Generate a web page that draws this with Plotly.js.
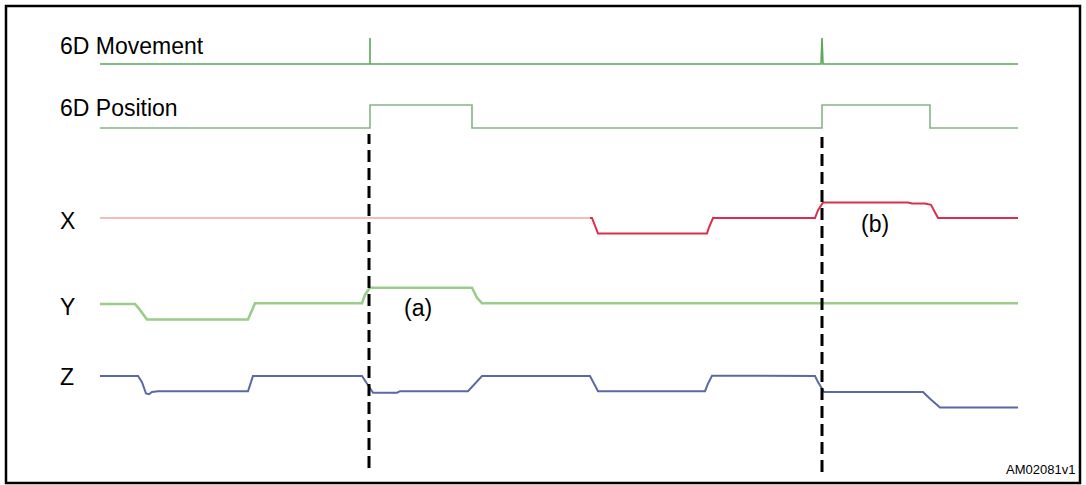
<!DOCTYPE html>
<html>
<head>
<meta charset="utf-8">
<script src="https://cdn.plot.ly/plotly-3.0.1.min.js"></script>
<style>html,body{margin:0;padding:0;background:#fff;}#chart{width:1086px;height:485px;}</style>
</head>
<body>
<div id="chart"></div>
<script>
// ---- data (time axis in arbitrary sample units, levels in logical units) ----
const channelNames = ["6D Movement", "6D Position", "X", "Y", "Z"];

const tMove = [100, 370, 370, 370, 821, 822, 822, 823, 1018];
const vMove = [0, 0, 1, 0, 0, 1, 1, 0, 0];

const tPos = [100, 370, 370, 472, 472, 822, 822, 930, 930, 1018];
const vPos = [0, 0, 1, 1, 0, 0, 1, 1, 0, 0];

const tXpale = [100, 590];
const vXpale = [0, 0];
const tX = [590, 592, 598, 707, 709, 713, 815, 818, 823, 908, 912, 925, 931, 938, 1018];
const vX = [0, 0, -1, -1, -0.6, 0, 0, 0.5, 1, 1, 0.93, 0.93, 0.85, 0, 0];

const tY = [100, 135, 139, 147, 248, 251, 255, 362, 365, 370, 472, 477, 482, 1018];
const vY = [0, 0, -0.3, -1, -1, -0.5, 0.05, 0.05, 0.6, 1.05, 1.05, 0.4, 0.05, 0.05];

const tZ = [100, 138, 142, 146, 149, 152, 158, 248, 250, 253, 362, 366, 373, 397, 400, 468, 475, 482, 590, 593, 598, 705, 708, 712, 815, 818, 824, 923, 930, 940, 1018];
const vZ = [0, 0, -0.4, -1.15, -1.2, -1.05, -1.0, -1.0, -0.6, 0, 0, -0.4, -1.1, -1.1, -1.0, -1.0, -0.5, 0, 0, -0.4, -1.0, -1.0, -0.5, 0.02, 0, -0.4, -1.05, -1.05, -1.5, -2.07, -2.07];

const eventTimes = [369, 822];
const eventLabels = ["(a)", "(b)"];
const figId = "AM02081v1";

// ---- layout helpers (positions only) ----
const W = 1086, H = 485;
const px = x => x / W;
const py = y => 1 - y / H;
function axisRange(basePx, unitPx) {
  const span = H / unitPx;
  const r0 = -span * (1 - basePx / H);
  return [r0, r0 + span];
}
const chan = [
  {base: 64, unit: 26},   // movement
  {base: 128, unit: 23},  // position
  {base: 218, unit: 15.5},  // X
  {base: 304, unit: 15.5},  // Y
  {base: 376, unit: 15.2}   // Z
];

const traces = [
  {x: tMove, y: vMove, yaxis: 'y', line: {color: '#5aa85a', width: 1.6}},
  {x: tPos, y: vPos, yaxis: 'y2', line: {color: '#86b486', width: 1.6}},
  {x: tXpale, y: vXpale, yaxis: 'y3', line: {color: '#f2a6a6', width: 1.6}},
  {x: tX, y: vX, yaxis: 'y3', line: {color: '#d8304c', width: 2}},
  {x: tY, y: vY, yaxis: 'y4', line: {color: '#9bcc8a', width: 2.6}},
  {x: tZ, y: vZ, yaxis: 'y5', line: {color: '#5a68a6', width: 2}}
].map(t => Object.assign({type: 'scatter', mode: 'lines', hoverinfo: 'skip', showlegend: false}, t));

const hidden = {visible: false, showgrid: false, zeroline: false, fixedrange: true};
const layout = {
  width: W, height: H,
  margin: {l: 0, r: 0, t: 0, b: 0},
  paper_bgcolor: '#fff', plot_bgcolor: '#fff',
  showlegend: false,
  xaxis: Object.assign({range: [0, W], domain: [0, 1]}, hidden),
  yaxis: Object.assign({range: axisRange(chan[0].base, chan[0].unit), domain: [0, 1]}, hidden),
  yaxis2: Object.assign({range: axisRange(chan[1].base, chan[1].unit), overlaying: 'y'}, hidden),
  yaxis3: Object.assign({range: axisRange(chan[2].base, chan[2].unit), overlaying: 'y'}, hidden),
  yaxis4: Object.assign({range: axisRange(chan[3].base, chan[3].unit), overlaying: 'y'}, hidden),
  yaxis5: Object.assign({range: axisRange(chan[4].base, chan[4].unit), overlaying: 'y'}, hidden),
  shapes: [
    {type: 'rect', xref: 'paper', yref: 'paper', x0: px(6), x1: px(1080), y0: py(483), y1: py(6),
     line: {color: '#000', width: 2.5}, fillcolor: 'rgba(0,0,0,0)'}
  ].concat(eventTimes.map((t, i) => ({
    type: 'line', xref: 'x', yref: 'paper', x0: t, x1: t,
    y0: py(i === 0 ? 468 : 472), y1: py(i === 0 ? 134 : 137),
    line: {color: '#000', width: 3, dash: '12px,6px'}
  }))),
  annotations: []
};

const font = {family: 'Liberation Sans, Arial, sans-serif', size: 23, color: '#000'};
const labelY = [46, 108, 221, 307, 377];
channelNames.forEach((n, i) => {
  layout.annotations.push({text: n, xref: 'paper', yref: 'paper', x: px(58), y: py(labelY[i]),
    xanchor: 'left', yanchor: 'middle', showarrow: false, font: font});
});
const evLabelPos = [[402, 308], [859, 224]];
eventLabels.forEach((n, i) => {
  layout.annotations.push({text: n, xref: 'paper', yref: 'paper', x: px(evLabelPos[i][0]), y: py(evLabelPos[i][1]),
    xanchor: 'left', yanchor: 'middle', showarrow: false, font: font});
});
layout.annotations.push({text: figId, xref: 'paper', yref: 'paper', x: px(1077), y: py(469),
  xanchor: 'right', yanchor: 'middle', showarrow: false,
  font: {family: 'Liberation Sans, Arial, sans-serif', size: 13, color: '#000'}});

Plotly.newPlot('chart', traces, layout, {staticPlot: true, displayModeBar: false});
</script>
</body>
</html>
